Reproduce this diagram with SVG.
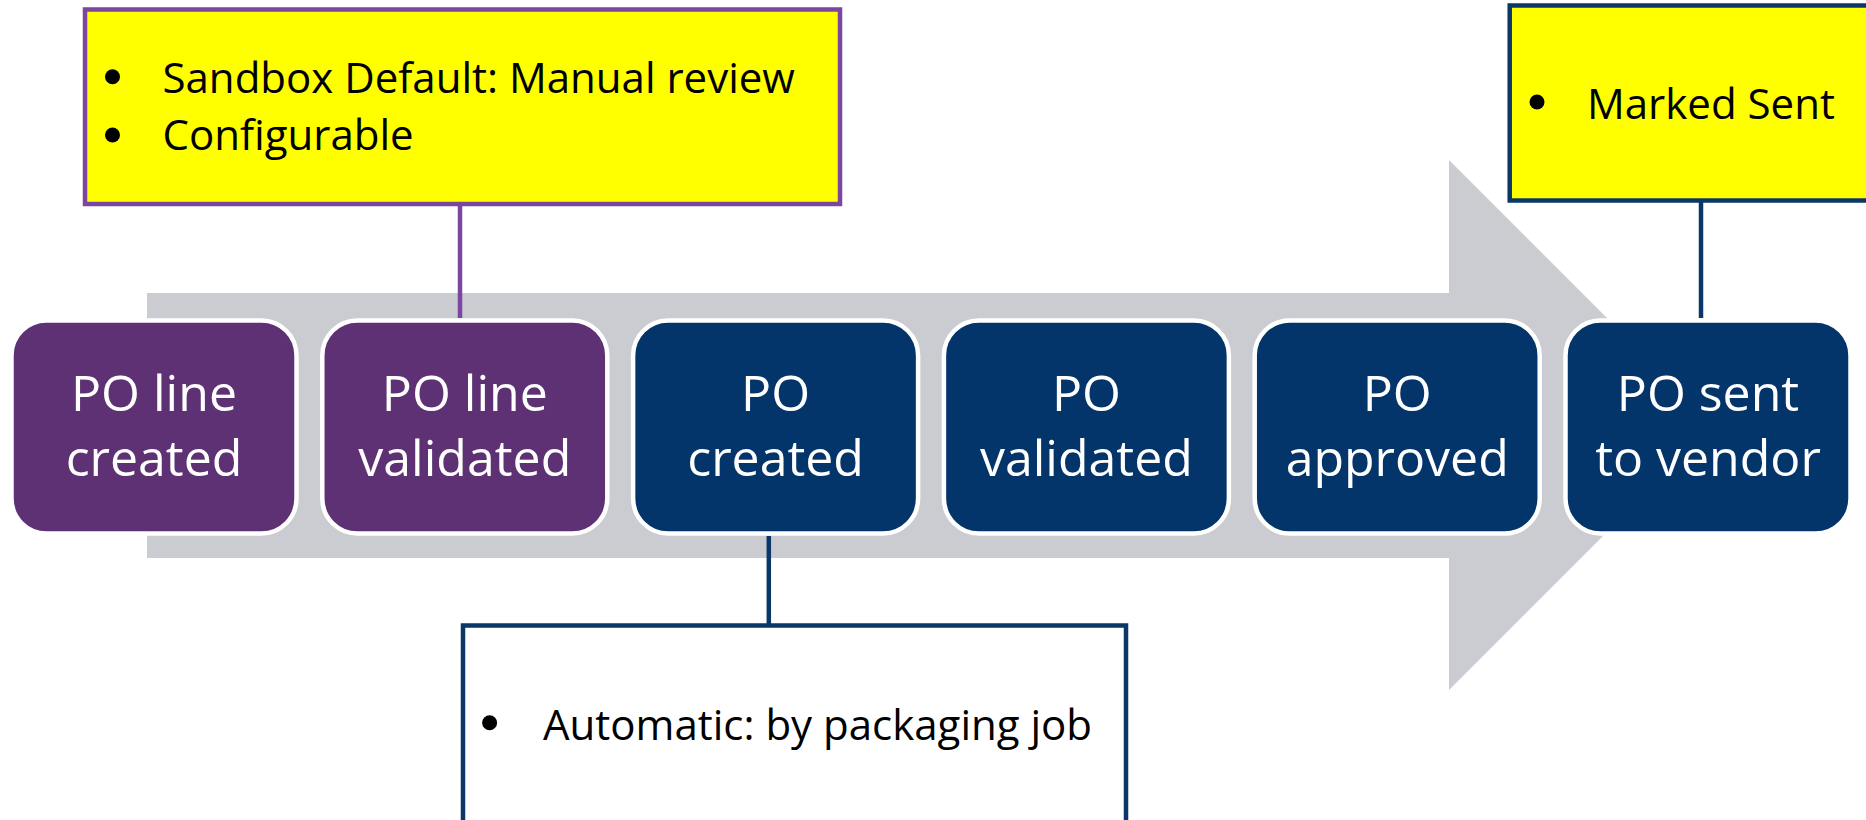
<svg xmlns="http://www.w3.org/2000/svg" width="1866" height="820" viewBox="0 0 1866 820">
  <style>
    .step { stroke: #FFFFFF; stroke-width: 4.5; }
    .purple { fill: #5E3174; }
    .navy { fill: #03356A; }
    .label { font-family: "Open Sans", "Noto Sans", sans-serif; font-size: 50px; fill: #FFFFFF; text-anchor: middle; }
    .note { font-family: "Open Sans", "Noto Sans", sans-serif; font-size: 42px; fill: #000000; }
    .bullet { fill: #000000; }
    .callout-yellow { fill: #FFFF00; }
    .callout-white { fill: #FFFFFF; }
    .edge-purple { stroke: #7B46A0; }
    .edge-navy { stroke: #0B3768; }
  </style>

  <defs>
    <circle id="dot" r="7.5"/>
  </defs>

  <!-- background process arrow -->
  <polygon id="flow-arrow" points="147,293 1449,293 1449,160 1714,425 1449,690 1449,558 147,558" fill="#CBCCD1"/>

  <!-- connectors between callouts and steps -->
  <g id="connectors" fill="none" stroke-width="4.5">
    <line class="edge-purple" x1="460" y1="204" x2="460" y2="318"/>
    <line class="edge-navy" x1="768.8" y1="536" x2="768.8" y2="625.5"/>
    <line class="edge-navy" x1="1701" y1="200.5" x2="1701" y2="318"/>
  </g>

  <!-- process steps -->
  <g id="step-po-line-created">
    <rect class="step purple" x="11.5" y="320.5" width="285" height="213" rx="35"/>
    <text class="label" x="154" y="411">PO line</text>
    <text class="label" x="154" y="476">created</text>
  </g>
  <g id="step-po-line-validated">
    <rect class="step purple" x="322.3" y="320.5" width="285" height="213" rx="35"/>
    <text class="label" x="464.8" y="411">PO line</text>
    <text class="label" x="464.8" y="476">validated</text>
  </g>
  <g id="step-po-created">
    <rect class="step navy" x="633.1" y="320.5" width="285" height="213" rx="35"/>
    <text class="label" x="775.6" y="411">PO</text>
    <text class="label" x="775.6" y="476">created</text>
  </g>
  <g id="step-po-validated">
    <rect class="step navy" x="943.9" y="320.5" width="285" height="213" rx="35"/>
    <text class="label" x="1086.4" y="411">PO</text>
    <text class="label" x="1086.4" y="476">validated</text>
  </g>
  <g id="step-po-approved">
    <rect class="step navy" x="1254.7" y="320.5" width="285" height="213" rx="35"/>
    <text class="label" x="1397.2" y="411">PO</text>
    <text class="label" x="1397.2" y="476">approved</text>
  </g>
  <g id="step-po-sent">
    <rect class="step navy" x="1565.5" y="320.5" width="285" height="213" rx="35"/>
    <text class="label" x="1708" y="411">PO sent</text>
    <text class="label" x="1708" y="476">to vendor</text>
  </g>

  <!-- callouts -->
  <g id="note-validation">
    <rect class="callout-yellow edge-purple" x="85" y="9.5" width="755" height="194.5" stroke-width="4.5"/>
    <use href="#dot" class="bullet" x="112.5" y="76.7"/>
    <text class="note" x="162.5" y="92.7" font-size="43">Sandbox Default: Manual review</text>
    <use href="#dot" class="bullet" x="112.5" y="135"/>
    <text class="note" x="162.5" y="150" font-size="43">Configurable</text>
  </g>
  <g id="note-packaging">
    <rect class="callout-white edge-navy" x="463" y="625.5" width="663" height="260" stroke-width="4.5"/>
    <use href="#dot" class="bullet" x="489.6" y="722.7"/>
    <text class="note" x="543" y="740">Automatic: by packaging job</text>
  </g>
  <g id="note-sent">
    <rect class="callout-yellow edge-navy" x="1509.7" y="5.5" width="420" height="195" stroke-width="4.5"/>
    <use href="#dot" class="bullet" x="1537" y="102"/>
    <text class="note" x="1587" y="119">Marked Sent</text>
  </g>
</svg>
